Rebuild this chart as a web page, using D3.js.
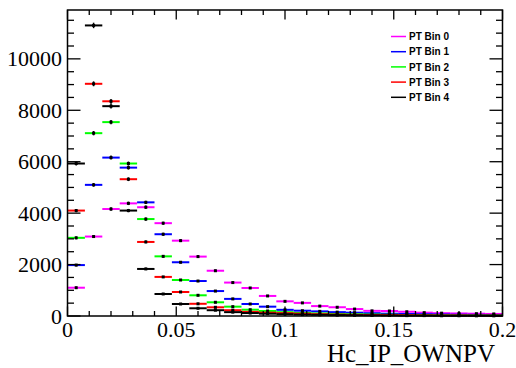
<!DOCTYPE html>
<html>
<head>
<meta charset="utf-8">
<script src="https://cdn.jsdelivr.net/npm/d3@7"></script>
<style>
  body { margin: 0; background: #fff; }
  svg { display: block; }
</style>
</head>
<body>
<div id="chart"></div>
<script>
// bin centres: 25 bins of width 0.008 from 0 to 0.2
const binWidth = 0.008;
const binCenters = d3.range(25).map(i => +(binWidth * (i + 0.5)).toFixed(4));

const seriesNames = ['PT Bin 0', 'PT Bin 1', 'PT Bin 2', 'PT Bin 3', 'PT Bin 4'];
const seriesColors = ['#ff00ff', '#0000ff', '#00ff00', '#ff0000', '#000000'];

const bin0 = [1100, 3090, 4160, 4380, 4230, 3610, 2930, 2310, 1760, 1300, 1090, 780, 570, 510, 385, 340, 270, 200, 195, 165, 130, 110, 100, 90, 80];
const bin1 = [1980, 5100, 6160, 5770, 4420, 3180, 2090, 1360, 970, 665, 467, 363, 240, 206, 180, 150, 130, 110, 90, 80, 70, 60, 50, 45, 40];
const bin2 = [3040, 7110, 7540, 5930, 3770, 2320, 1400, 805, 533, 363, 245, 195, 150, 120, 100, 80, 70, 60, 50, 40, 35, 30, 25, 20, 20];
const bin3 = [4100, 9030, 8350, 5320, 2880, 1520, 934, 475, 338, 225, 160, 130, 110, 90, 70, 55, 45, 40, 35, 30, 25, 20, 20, 15, 15];
const bin4 = [5930, 11300, 8160, 4100, 1830, 856, 467, 300, 225, 150, 115, 90, 70, 55, 45, 35, 30, 25, 20, 15, 15, 10, 10, 10, 10];
const allSeries = [bin0, bin1, bin2, bin3, bin4];

const xTicks = [0, 0.05, 0.1, 0.15, 0.2];
const yTicks = [0, 2000, 4000, 6000, 8000, 10000];

const W = 516, H = 368;
const margin = {top: 10, right: 13.5, bottom: 52, left: 67.5};

const svg = d3.select('#chart')
  .append('svg')
    .attr('width', W)
    .attr('height', H);

const x = d3.scaleLinear()
  .domain([0, 0.2])
  .range([margin.left, W - margin.right]);

const y = d3.scaleLinear()
  .domain([0, 11900])
  .range([H - margin.bottom, margin.top]);

const x0 = x.range()[0], x1 = x.range()[1];
const y0 = y.range()[0], y1 = y.range()[1];

// histograms
allSeries.forEach((vals, s) => {
  const g = svg.append('g');
  const pts = vals.map((v, i) => ({c: binCenters[i], v: v}));
  g.selectAll('line.h')
    .data(pts)
    .enter()
    .append('line')
      .attr('x1', d => x(d.c - binWidth / 2))
      .attr('x2', d => x(d.c + binWidth / 2))
      .attr('y1', d => y(d.v))
      .attr('y2', d => y(d.v))
      .attr('stroke', seriesColors[s])
      .attr('stroke-width', 2);
  g.selectAll('line.v')
    .data(pts)
    .enter()
    .append('line')
      .attr('x1', d => x(d.c))
      .attr('x2', d => x(d.c))
      .attr('y1', d => y(Math.max(0, d.v - Math.sqrt(d.v))))
      .attr('y2', d => y(d.v + Math.sqrt(d.v)))
      .attr('stroke', '#000')
      .attr('stroke-width', 1.5);
  g.selectAll('rect')
    .data(pts)
    .enter()
    .append('rect')
      .attr('x', d => x(d.c) - 1.5)
      .attr('y', d => y(d.v) - 1.5)
      .attr('width', 3)
      .attr('height', 3)
      .attr('fill', '#000');
});

// frame
svg.append('rect')
  .attr('x', x0)
  .attr('y', y1)
  .attr('width', x1 - x0)
  .attr('height', y0 - y1)
  .attr('fill', 'none')
  .attr('stroke', '#000')
  .attr('stroke-width', 1.5);

// x ticks (bottom and top, pointing inward)
const xMinor = d3.range(0, 0.2001, 0.01);
const xMajLen = 9.5, xMinLen = 5;
xMinor.forEach(t => {
  const major = xTicks.some(m => Math.abs(m - t) < 1e-6);
  const len = major ? xMajLen : xMinLen;
  svg.append('line').attr('x1', x(t)).attr('x2', x(t))
    .attr('y1', y0).attr('y2', y0 - len).attr('stroke', '#000').attr('stroke-width', 1.3);
  svg.append('line').attr('x1', x(t)).attr('x2', x(t))
    .attr('y1', y1).attr('y2', y1 + len).attr('stroke', '#000').attr('stroke-width', 1.3);
});

// y ticks (left and right)
const yMinor = d3.range(0, 11900, 500);
const yMajLen = 13, yMinLen = 6.5;
yMinor.forEach(t => {
  const major = t % 2000 === 0;
  const len = major ? yMajLen : yMinLen;
  svg.append('line').attr('x1', x0).attr('x2', x0 + len)
    .attr('y1', y(t)).attr('y2', y(t)).attr('stroke', '#000').attr('stroke-width', 1.3);
  svg.append('line').attr('x1', x1).attr('x2', x1 - len)
    .attr('y1', y(t)).attr('y2', y(t)).attr('stroke', '#000').attr('stroke-width', 1.3);
});

// tick labels
const labelFont = '"Liberation Serif", "DejaVu Serif", serif';
svg.selectAll('text.xl')
  .data(xTicks)
  .enter()
  .append('text')
    .attr('x', d => x(d))
    .attr('y', y0 + 21)
    .attr('text-anchor', 'middle')
    .attr('font-family', labelFont)
    .attr('font-size', 22)
    .text(d => d3.format('~g')(d));

svg.selectAll('text.yl')
  .data(yTicks)
  .enter()
  .append('text')
    .attr('x', x0 - 5.5)
    .attr('y', d => y(d) + 7.5)
    .attr('text-anchor', 'end')
    .attr('font-family', labelFont)
    .attr('font-size', 22)
    .text(d => d);

// axis title
svg.append('text')
  .attr('x', 495)
  .attr('y', 362)
  .attr('text-anchor', 'end')
  .attr('font-family', labelFont)
  .attr('font-size', 25)
  .text('Hc_IP_OWNPV');

// legend
const legend = svg.append('g');
seriesNames.forEach((name, i) => {
  const ly = 36.5 + i * 15.2;
  legend.append('line')
    .attr('x1', 391).attr('x2', 406)
    .attr('y1', ly).attr('y2', ly)
    .attr('stroke', seriesColors[i])
    .attr('stroke-width', 1.5);
  legend.append('text')
    .attr('x', 409)
    .attr('y', ly + 3.6)
    .attr('font-family', '"Liberation Sans", Arial, sans-serif')
    .attr('font-weight', 'bold')
    .attr('font-size', 10)
    .text(name);
});
</script>
</body>
</html>
